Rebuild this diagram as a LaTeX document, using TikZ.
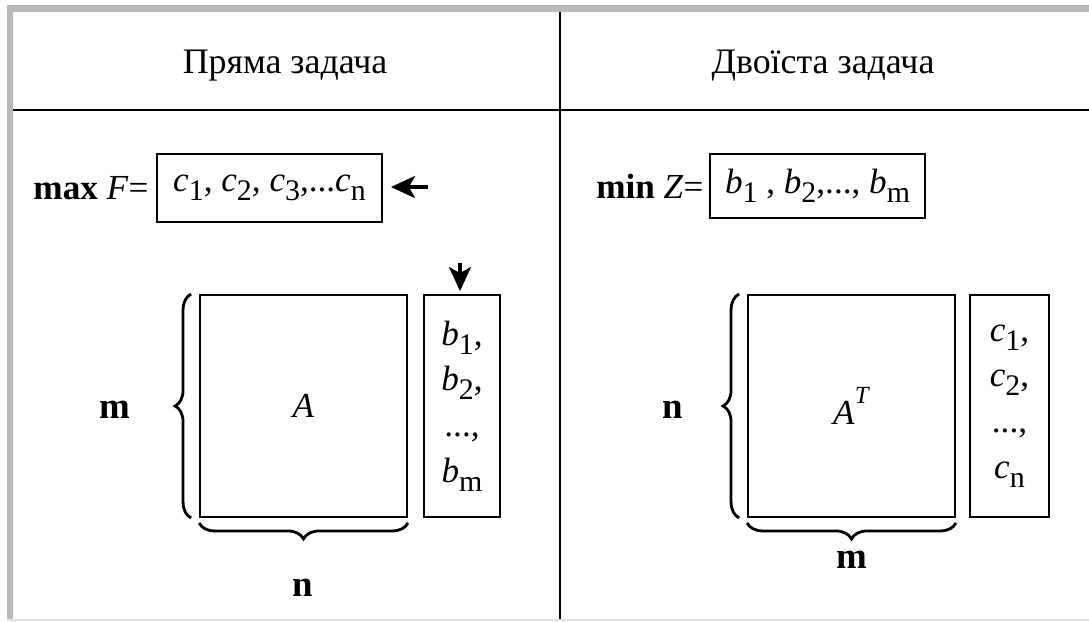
\documentclass[tikz,border=0pt]{standalone}
\usepackage{fontspec}
\setmainfont{Liberation Serif}
\usetikzlibrary{positioning,arrows.meta,decorations.pathreplacing}
\newcommand\vr[2]{\textit{#1}\raisebox{-0.55ex}{\fontsize{8.5}{8.5}\selectfont#2}}

\begin{document}
\begin{tikzpicture}[x=0.01cm, y=0.01cm,
  bx/.style={draw, line width=0.5pt, inner sep=0pt, font=\fontsize{10}{13}\selectfont},
  vec/.style={bx, minimum height=2.22cm, align=center},
  mat/.style={bx, minimum width=2.07cm, minimum height=2.22cm},
  lbl/.style={font=\fontsize{10.5}{12}\selectfont\bfseries},
  hd/.style={font=\fontsize{10.2}{12}\selectfont},
  brc/.style={decorate, decoration={brace, amplitude=0.16cm}, line width=0.8pt},
  arr/.style={-{Stealth[length=0.24cm, width=0.22cm, inset=0.06cm]}, line width=0.9pt}
]
\useasboundingbox (0,0) rectangle (1089,621);
% table frame
\fill[gray!55] (7,2) rectangle (13,616);
\fill[gray!55] (7,609) rectangle (1089,616);
\fill[gray!20] (7,0) rectangle (1089,2);
\draw[line width=0.6pt] (13,511) -- (1089,511);
\draw[line width=0.8pt] (560,609) -- (560,2);
\node[hd] (hL) at (285,555) {Пряма задача};
\node[hd] (hR) at (823,555) {Двоїста задача};
% primal problem
\node[bx, minimum width=2.25cm, minimum height=0.68cm] (cF) at (269.5,433) {\vr{c}{1}, \vr{c}{2}, \vr{c}{3},...\vr{c}{n}};
\node[left=0.07cm of cF, inner sep=0pt, font=\fontsize{10}{12}\selectfont] (maxF) {\textbf{max} \textit{F}=};
\node[mat] (A) at (303.5,215) {\textit{A}};
\node[vec, minimum width=0.76cm] (bB) at (462,215) {\vr{b}{1},\\ \vr{b}{2},\\ ...,\\ \vr{b}{m}};
\coordinate (inF) at (428,434);
\coordinate (inB) at (460,358);
\draw[arr, shorten >=0.08cm] (inF) -- (inF -| cF.east);
\draw[arr, shorten >=0.03cm] (inB) -- (inB |- bB.north);
\node[lbl] (rA) at (115,211) {m};
\node[lbl] (cA) at (303,33) {n};
% dual problem
\node[bx, minimum width=2.15cm, minimum height=0.64cm] (cZ) at (817.5,435) {\vr{b}{1} , \vr{b}{2},..., \vr{b}{m}};
\node[left=0.05cm of cZ, inner sep=0pt, font=\fontsize{10}{12}\selectfont] (minZ) {\textbf{min} \textit{Z}=};
\node[mat] (AT) at (851.5,215) {\textit{A}\raisebox{1.3ex}{\fontsize{7}{7}\selectfont\textit{T}}};
\node[vec, minimum width=0.79cm] (cC) at (1009.5,215) {\vr{c}{1},\\ \vr{c}{2},\\ ...,\\ \vr{c}{n}};
\node[lbl] (rAT) at (673,211) {n};
\node[lbl] (cAT) at (852,61) {m};
\foreach \m in {A,AT} {
  \draw[brc] ([xshift=-0.08cm]\m.south west) -- ([xshift=-0.08cm]\m.north west);
  \draw[brc] ([yshift=-0.05cm]\m.south east) -- ([yshift=-0.05cm]\m.south west);
}
\end{tikzpicture}
\end{document}
